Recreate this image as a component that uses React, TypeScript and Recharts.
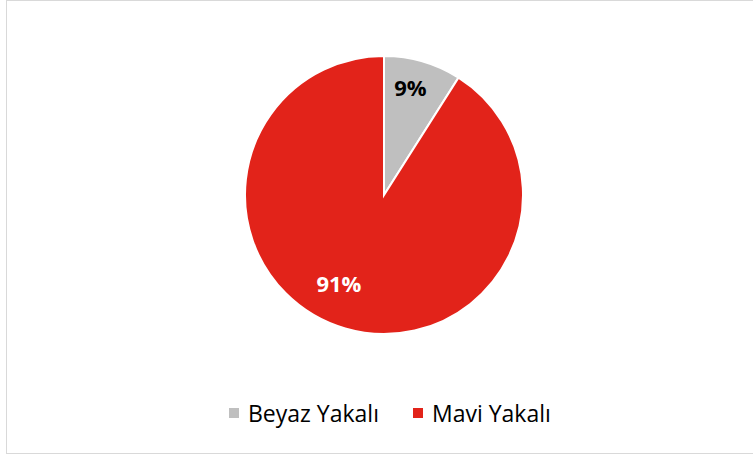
import React from 'react';
import { PieChart, Pie, Cell, Legend } from 'recharts';

// Çalışan dağılımı (%)
const categories = ['Beyaz Yakalı', 'Mavi Yakalı'];
const values = [9, 91];
const colors = ['#BFBFBF', '#E2231A'];
const labelColors = ['#000000', '#FFFFFF'];

const data = categories.map((name, i) => ({ name, value: values[i] }));

const RAD = Math.PI / 180;
const FONT = '"Open Sans", Calibri, sans-serif';

// Excel "best fit" label placement, approximated per slice
const labelRadius = [0.8, 0.71];
const labelAngleShift = [2.5, -11];

const renderLabel = (props: any) => {
  const { cx, cy, midAngle, outerRadius, index, value } = props;
  const r = outerRadius * labelRadius[index];
  const a = (midAngle + labelAngleShift[index]) * RAD;
  const x = cx + r * Math.cos(-a);
  const y = cy + r * Math.sin(-a);
  return (
    <text
      x={x}
      y={y}
      fill={labelColors[index]}
      textAnchor="middle"
      dominantBaseline="central"
      fontFamily={FONT}
      fontWeight={700}
      fontSize={22}
    >
      {value}%
    </text>
  );
};

const renderLegend = () => (
  <div
    style={{
      display: 'flex',
      alignItems: 'center',
      paddingLeft: 229,
      fontFamily: FONT,
      fontSize: 23,
      lineHeight: '32px',
      color: '#000',
    }}
  >
    {categories.map((c, i) => (
      <div key={c} style={{ display: 'flex', alignItems: 'center', marginRight: i === 0 ? 34 : 0 }}>
        <span style={{ width: 10, height: 10, background: colors[i], marginRight: 9, display: 'inline-block' }} />
        <span>{c}</span>
      </div>
    ))}
  </div>
);

const App: React.FC = () => {
  return (
    <div style={{ position: 'fixed', left: 0, top: 0, width: 753, height: 454, background: '#fff', overflow: 'hidden' }}>
      <div
        style={{
          position: 'absolute',
          left: 6,
          top: 0,
          width: 750,
          height: 454,
          border: '1px solid #D9D9D9',
          boxSizing: 'border-box',
        }}
      />
      <div style={{ position: 'absolute', left: 0, top: 0 }}>
        <PieChart width={753} height={454}>
          <Pie
            data={data}
            dataKey="value"
            nameKey="name"
            cx={379}
            cy={190}
            outerRadius={139}
            startAngle={90}
            endAngle={-270}
            stroke="#FFFFFF"
            strokeWidth={2}
            label={renderLabel}
            labelLine={false}
            isAnimationActive={false}
          >
            {data.map((d, i) => (
              <Cell key={d.name} fill={colors[i]} />
            ))}
          </Pie>
          <Legend content={renderLegend} wrapperStyle={{ top: 397, left: 0, width: 753 }} />
        </PieChart>
      </div>
    </div>
  );
};

export default App;
